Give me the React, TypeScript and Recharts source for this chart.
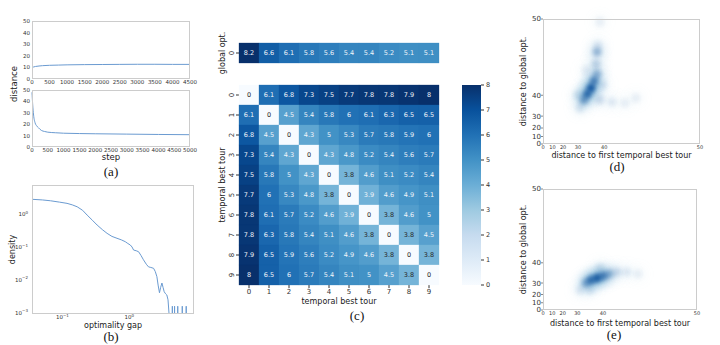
import React from 'react';
import {
  LineChart, Line, XAxis, YAxis, ScatterChart, Scatter, BarChart, Bar, Label,
} from 'recharts';

const FONT = '"DejaVu Sans", sans-serif';
const SERIF = '"Liberation Serif", "Times New Roman", serif';
const LINE_COLOR = '#6b9bd1';
const TICK_COLOR = '#333333';
const FRAME_COLOR = '#cccccc';

// ---------- (a) distance vs step ----------
const stepsTop = [0, 50, 100, 200, 300, 500, 750, 1000, 1500, 2000, 2500, 3000, 3500, 4000, 4500];
const distTop = [10.0, 10.4, 10.8, 11.2, 11.5, 11.8, 12.0, 12.2, 12.4, 12.5, 12.6, 12.7, 12.7, 12.6, 12.6];
const stepsBottom = [0, 20, 50, 100, 150, 200, 300, 400, 500, 750, 1000, 1500, 2000, 3000, 4000, 5000];
const distBottom = [48, 38, 28, 21, 18.5, 17, 14.5, 13.6, 13, 12.5, 12.1, 11.8, 11.6, 11.3, 11.0, 10.8];
const stepTicksTop = [0, 500, 1000, 1500, 2000, 2500, 3000, 3500, 4000, 4500];
const stepTicksBottom = [0, 500, 1000, 1500, 2000, 2500, 3000, 3500, 4000, 4500, 5000];
const distTicks = [0, 10, 20, 30, 40, 50];

// ---------- (b) density vs optimality gap ----------
const gapValues = [
  0.036, 0.05, 0.066, 0.09, 0.117, 0.14, 0.166, 0.2, 0.234, 0.28, 0.33, 0.4, 0.465, 0.55, 0.655,
  0.76, 0.871, 0.95, 1.035, 1.1, 1.16, 1.27, 1.377, 1.5, 1.63, 1.8, 1.94, 2.1, 2.31, 2.45, 2.59,
  2.7, 2.83, 2.95, 3.08, 3.2, 3.33, 3.5, 3.65, 3.8, 4.0,
  4.4, 4.41, 4.42, 4.75, 4.76, 4.77, 5.3, 5.31, 5.32, 6.2, 6.21, 6.22, 7.1, 7.11, 7.12, 8,
];
const densityValues = [
  2.79, 2.68, 2.53, 2.3, 2.11, 1.9, 1.66, 1.3, 0.93, 0.65, 0.464, 0.33, 0.26, 0.21, 0.184,
  0.165, 0.145, 0.128, 0.115, 0.1, 0.081, 0.077, 0.072, 0.055, 0.041, 0.03, 0.025, 0.024, 0.0226, 0.018, 0.0126,
  0.007, 0.0041, 0.006, 0.0081, 0.006, 0.0044, 0.0038, 0.0035, 0.0025, 0.0006,
  0.0006, 0.0016, 0.0006, 0.0006, 0.0016, 0.0006, 0.0006, 0.0016, 0.0006, 0.0006, 0.0016, 0.0006, 0.0006, 0.0016, 0.0006, 0.0006,
];
const gapTicks = [0.1, 1];
const densityTicks = [0.001, 0.01, 0.1, 1];

// ---------- (c) heatmap ----------
const tourLabels = [0, 1, 2, 3, 4, 5, 6, 7, 8, 9];
const globalOptRow = [8.2, 6.6, 6.1, 5.8, 5.6, 5.4, 5.4, 5.2, 5.1, 5.1];
const tourMatrix = [
  [0, 6.1, 6.8, 7.3, 7.5, 7.7, 7.8, 7.8, 7.9, 8],
  [6.1, 0, 4.5, 5.4, 5.8, 6, 6.1, 6.3, 6.5, 6.5],
  [6.8, 4.5, 0, 4.3, 5, 5.3, 5.7, 5.8, 5.9, 6],
  [7.3, 5.4, 4.3, 0, 4.3, 4.8, 5.2, 5.4, 5.6, 5.7],
  [7.5, 5.8, 5, 4.3, 0, 3.8, 4.6, 5.1, 5.2, 5.4],
  [7.7, 6, 5.3, 4.8, 3.8, 0, 3.9, 4.6, 4.9, 5.1],
  [7.8, 6.1, 5.7, 5.2, 4.6, 3.9, 0, 3.8, 4.6, 5],
  [7.8, 6.3, 5.8, 5.4, 5.1, 4.6, 3.8, 0, 3.8, 4.5],
  [7.9, 6.5, 5.9, 5.6, 5.2, 4.9, 4.6, 3.8, 0, 3.8],
  [8, 6.5, 6, 5.7, 5.4, 5.1, 5, 4.5, 3.8, 0],
];
const colorbarTicks = [0, 1, 2, 3, 4, 5, 6, 7, 8];
const colorMax = 8;

// ---------- (d), (e) KDE ----------
const kdeTickPos = [0, 6, 12.8, 22.3, 39, 100];
const kdeTickLabels = ['0', '10', '20', '30', '40', '50'];
const kdeD = [
  { x: 26.1, y: 35.2, w: 0.45 }, { x: 28.3, y: 40, w: 0.75 }, { x: 30.6, y: 44.8, w: 0.9 },
  { x: 32.5, y: 50.4, w: 0.6 }, { x: 34.4, y: 56, w: 0.35 }, { x: 33.8, y: 64, w: 0.2 },
  { x: 34.4, y: 73.6, w: 0.35 }, { x: 35, y: 79, w: 0.1 }, { x: 22.3, y: 39.2, w: 0.12 },
  { x: 23.6, y: 28.8, w: 0.12 }, { x: 36.3, y: 35.2, w: 0.15 }, { x: 44, y: 33.6, w: 0.1 },
  { x: 52.2, y: 32.8, w: 0.08 }, { x: 59.2, y: 36.8, w: 0.08 }, { x: 36.3, y: 97.6, w: 0.08 },
  { x: 38.2, y: 47.2, w: 0.1 }, { x: 27.4, y: 59.2, w: 0.08 },
];
const kdeE = [
  { x: 27.9, y: 22.3, w: 0.4 }, { x: 31.2, y: 24.8, w: 0.7 }, { x: 35.1, y: 26.4, w: 0.85 },
  { x: 39, y: 28.1, w: 0.6 }, { x: 42.9, y: 29.8, w: 0.35 }, { x: 24, y: 16.5, w: 0.1 },
  { x: 48, y: 31.4, w: 0.15 }, { x: 54.5, y: 31.4, w: 0.1 }, { x: 61.7, y: 29.8, w: 0.08 },
  { x: 37, y: 34.7, w: 0.12 }, { x: 30.5, y: 16.5, w: 0.1 },
];

// ---------- helpers ----------
const BLUES = ['#f7fbff', '#deebf7', '#c6dbef', '#9ecae1', '#6baed6', '#4292c6', '#2171b5', '#08519c', '#08306b'];
function hexToRgb(h: string) {
  return [parseInt(h.slice(1, 3), 16), parseInt(h.slice(3, 5), 16), parseInt(h.slice(5, 7), 16)];
}
function bluesColor(t: number) {
  const tt = Math.max(0, Math.min(1, t));
  const s = tt * 8;
  const i = Math.min(7, Math.floor(s));
  const f = s - i;
  const a = hexToRgb(BLUES[i]);
  const b = hexToRgb(BLUES[i + 1]);
  const c = a.map((v, k) => Math.round(v + (b[k] - v) * f));
  return `rgb(${c[0]},${c[1]},${c[2]})`;
}

const Frame = ({ l, t, w, h }: any) => (
  <div style={{ position: 'absolute', left: l, top: t, width: w, height: h, border: `1px solid ${FRAME_COLOR}`, boxSizing: 'border-box', pointerEvents: 'none' }} />
);

const Caption = ({ x, y, text }: any) => (
  <div style={{ position: 'absolute', left: x, top: y, transform: 'translate(-50%, -50%)', fontFamily: SERIF, fontSize: 13, color: '#111', whiteSpace: 'nowrap', lineHeight: 1 }}>{text}</div>
);

const expStr = (v: number) => {
  const e = Math.round(Math.log10(v));
  return e < 0 ? '\u2212' + -e : String(e);
};

const PowTickX = (props: any) => {
  const { x, y, payload } = props;
  return (
    <text x={x} y={y + 5} textAnchor="middle" fontSize={5.5} fill={TICK_COLOR} fontFamily={FONT}>
      10<tspan dy={-2.5} fontSize={4}>{expStr(payload.value)}</tspan>
    </text>
  );
};
const PowTickY = (props: any) => {
  const { x, y, payload } = props;
  return (
    <text x={x} y={y + 2} textAnchor="end" fontSize={5.5} fill={TICK_COLOR} fontFamily={FONT}>
      10<tspan dy={-2.5} fontSize={4}>{expStr(payload.value)}</tspan>
    </text>
  );
};

const RotTick = (props: any) => {
  const { x, y, payload } = props;
  return (
    <text x={x} y={y} transform={`rotate(-90 ${x} ${y})`} textAnchor="middle" fontSize={7} fill={TICK_COLOR} fontFamily={FONT}>
      {payload.value}
    </text>
  );
};

const HM_W = 200;
const HM_H = 200;
const CELL_W = HM_W / 10;
const CELL_H = HM_H / 10;

const cellShape = (props: any) => {
  const { cx, cy, payload } = props;
  const v = payload.v;
  const dark = v < 3.85;
  return (
    <g>
      <rect x={cx - CELL_W / 2} y={cy - CELL_H / 2} width={CELL_W} height={CELL_H} fill={bluesColor(v / colorMax)} stroke={bluesColor(v / colorMax)} strokeWidth={0.3} />
      <text x={cx} y={cy} dy="0.35em" textAnchor="middle" fontSize={6.5} fontFamily={FONT} fill={dark ? '#262626' : '#f0f4fa'}>{String(v)}</text>
    </g>
  );
};

const makeBlob = (id: string, r: number, color: string, k: number) => (props: any) => {
  const { cx, cy, payload } = props;
  return <circle cx={cx} cy={cy} r={r} fill={color} fillOpacity={Math.min(1, payload.w * k)} filter={`url(#${id})`} />;
};

const kdeFmt = (v: number) => kdeTickLabels[kdeTickPos.indexOf(v)] ?? '';

const topRows = stepsTop.map((s, i) => ({ step: s, d: distTop[i] }));
const bottomRows = stepsBottom.map((s, i) => ({ step: s, d: distBottom[i] }));
const gapRows = gapValues.map((g, i) => ({ gap: g, density: densityValues[i] }));
const globalCells = globalOptRow.map((v, c) => ({ col: tourLabels[c], row: 0, v }));
const hmCells = tourMatrix.flatMap((row, r) => row.map((v, c) => ({ col: tourLabels[c], row: tourLabels[r], v })));
const colorbarRows = [{ name: 'cb', v: colorMax }];

const tickStyle = { fontSize: 5.5, fill: TICK_COLOR, fontFamily: FONT };

const KdePanel = ({ data, left, top, width, height, blurId, labelOffset }: any) => (
  <div style={{ position: 'absolute', left, top }}>
    <ScatterChart width={width} height={height} margin={{ top: 14, right: 10, bottom: 0, left: 0 }}>
      <defs>
        <filter id={blurId + 'h'} x="-300%" y="-300%" width="700%" height="700%" colorInterpolationFilters="sRGB">
          <feGaussianBlur stdDeviation={5} />
        </filter>
        <filter id={blurId + 'c'} x="-300%" y="-300%" width="700%" height="700%" colorInterpolationFilters="sRGB">
          <feGaussianBlur stdDeviation={2.2} />
        </filter>
      </defs>
      <XAxis type="number" dataKey="x" domain={[0, 100]} ticks={kdeTickPos} interval={0} tickFormatter={kdeFmt}
        height={21} tickSize={0} tickMargin={1} axisLine={false} tick={{ fontSize: 5, fill: TICK_COLOR, fontFamily: FONT }}>
        <Label value="distance to first temporal best tour" position="insideBottom" offset={labelOffset} style={{ fontSize: 8, fill: '#222', fontFamily: FONT }} />
      </XAxis>
      <YAxis type="number" dataKey="y" domain={[0, 100]} ticks={kdeTickPos} interval={0} tickFormatter={kdeFmt}
        width={38} tickSize={2} tickMargin={0} axisLine={false} tickLine={{ stroke: '#888' }} tick={{ fontSize: 7, fill: TICK_COLOR, fontFamily: FONT }}>
        <Label value="distance to global opt." angle={-90} position="insideLeft" offset={18} style={{ textAnchor: 'middle', fontSize: 8, fill: '#222', fontFamily: FONT }} />
      </YAxis>
      <Scatter data={data} shape={makeBlob(blurId + 'h', 9, '#6baed6', 0.55)} isAnimationActive={false} />
      <Scatter data={data} shape={makeBlob(blurId + 'c', 4.5, '#0b4f9a', 1.0)} isAnimationActive={false} />
    </ScatterChart>
  </div>
);

export default function App() {
  return (
    <div style={{ position: 'absolute', left: 0, top: 0, width: 720, height: 345, background: '#fff', overflow: 'hidden' }}>
      {/* (a) top */}
      <div style={{ position: 'absolute', left: 0, top: 0 }}>
        <LineChart width={200} height={100} data={topRows} margin={{ top: 21, right: 10, bottom: 0, left: 0 }}>
          <XAxis type="number" dataKey="step" domain={[0, 4500]} ticks={stepTicksTop} interval={0} height={21}
            tickSize={0} tickMargin={1} axisLine={false} tick={tickStyle} />
          <YAxis type="number" domain={[0, 50]} ticks={distTicks} interval={0} width={32}
            tickSize={0} tickMargin={2} axisLine={false} tick={tickStyle} />
          <Line type="monotone" dataKey="d" stroke={LINE_COLOR} strokeWidth={1} dot={false} isAnimationActive={false} />
        </LineChart>
      </div>
      <Frame l={32} t={21} w={158} h={58} />
      {/* (a) bottom */}
      <div style={{ position: 'absolute', left: 0, top: 80 }}>
        <LineChart width={200} height={88} data={bottomRows} margin={{ top: 10, right: 10, bottom: 0, left: 0 }}>
          <XAxis type="number" dataKey="step" domain={[0, 5000]} ticks={stepTicksBottom} interval={0} height={21}
            tickSize={0} tickMargin={1} axisLine={false} tick={tickStyle}>
            <Label value="step" position="insideBottom" offset={8} style={{ fontSize: 8.5, fill: '#222', fontFamily: FONT }} />
          </XAxis>
          <YAxis type="number" domain={[0, 50]} ticks={distTicks} interval={0} width={32}
            tickSize={0} tickMargin={2} axisLine={false} tick={tickStyle} />
          <Line type="monotone" dataKey="d" stroke={LINE_COLOR} strokeWidth={1} dot={false} isAnimationActive={false} />
        </LineChart>
      </div>
      <Frame l={32} t={90} w={158} h={57} />
      <div style={{ position: 'absolute', left: 14, top: 84, transform: 'translate(-50%, -50%) rotate(-90deg)', fontFamily: FONT, fontSize: 8.5, color: '#222', whiteSpace: 'nowrap', lineHeight: 1 }}>distance</div>
      <Caption x={111} y={171} text="(a)" />

      {/* (b) */}
      <div style={{ position: 'absolute', left: 0, top: 170 }}>
        <LineChart width={200} height={170} data={gapRows} margin={{ top: 15, right: 6, bottom: 0, left: 0 }}>
          <XAxis type="number" dataKey="gap" scale="log" domain={[0.035, 9.3]} allowDataOverflow ticks={gapTicks} interval={0}
            height={26} tickSize={0} tickMargin={0} axisLine={false} tick={<PowTickX />}>
            <Label value="optimality gap" position="insideBottom" offset={12} style={{ fontSize: 8, fill: '#222', fontFamily: FONT }} />
          </XAxis>
          <YAxis type="number" scale="log" domain={[0.00093, 7.6]} allowDataOverflow ticks={densityTicks} interval={0}
            width={32} tickSize={0} tickMargin={4} axisLine={false} tick={<PowTickY />}>
            <Label value="density" angle={-90} position="insideLeft" offset={12} style={{ textAnchor: 'middle', fontSize: 8, fill: '#222', fontFamily: FONT }} />
          </YAxis>
          <Line type="linear" dataKey="density" stroke={LINE_COLOR} strokeWidth={1} dot={false} isAnimationActive={false} />
        </LineChart>
      </div>
      <Frame l={32} t={185} w={162} h={129} />
      <Caption x={111} y={336} text="(b)" />

      {/* (c) global opt row */}
      <div style={{ position: 'absolute', left: 200, top: 28 }}>
        <ScatterChart width={250} height={50} margin={{ top: 15, right: 11, bottom: 15, left: 0 }}>
          <XAxis type="number" dataKey="col" domain={[-0.5, 9.5]} hide />
          <YAxis type="number" dataKey="row" domain={[-0.5, 0.5]} ticks={[0]} interval={0} reversed width={39}
            tickSize={3} tickMargin={2} axisLine={false} tickLine={{ stroke: TICK_COLOR }} tick={<RotTick />}>
            <Label value="global opt." angle={-90} position="insideLeft" offset={22} style={{ textAnchor: 'middle', fontSize: 8, fill: '#222', fontFamily: FONT }} />
          </YAxis>
          <Scatter data={globalCells} shape={cellShape} isAnimationActive={false} />
        </ScatterChart>
      </div>
      {/* (c) main heatmap */}
      <div style={{ position: 'absolute', left: 200, top: 75 }}>
        <ScatterChart width={250} height={241} margin={{ top: 10, right: 11, bottom: 0, left: 0 }}>
          <XAxis type="number" dataKey="col" domain={[-0.5, 9.5]} ticks={tourLabels} interval={0} height={31}
            tickSize={3} tickMargin={1} axisLine={false} tickLine={{ stroke: TICK_COLOR }} tick={{ fontSize: 7, fill: TICK_COLOR, fontFamily: FONT }}>
            <Label value="temporal best tour" position="insideBottom" offset={12} style={{ fontSize: 8, fill: '#222', fontFamily: FONT }} />
          </XAxis>
          <YAxis type="number" dataKey="row" domain={[-0.5, 9.5]} ticks={tourLabels} interval={0} reversed width={39}
            tickSize={3} tickMargin={2} axisLine={false} tickLine={{ stroke: TICK_COLOR }} tick={<RotTick />}>
            <Label value="temporal best tour" angle={-90} position="insideLeft" offset={22} style={{ textAnchor: 'middle', fontSize: 8, fill: '#222', fontFamily: FONT }} />
          </YAxis>
          <Scatter data={hmCells} shape={cellShape} isAnimationActive={false} />
        </ScatterChart>
      </div>
      {/* colorbar */}
      <div style={{ position: 'absolute', left: 455, top: 75 }}>
        <BarChart width={50} height={221} data={colorbarRows} margin={{ top: 10, right: 0, bottom: 11, left: 7 }} barCategoryGap={0}>
          <defs>
            <linearGradient id="cbGrad" x1="0" y1="0" x2="0" y2="1">
              {BLUES.map((c, i) => (
                <stop key={i} offset={`${(i / 8) * 100}%`} stopColor={BLUES[8 - i]} />
              ))}
            </linearGradient>
          </defs>
          <XAxis dataKey="name" hide />
          <YAxis orientation="right" type="number" domain={[0, colorMax]} ticks={colorbarTicks} interval={0} width={24}
            tickSize={3} tickMargin={2} axisLine={false} tickLine={{ stroke: TICK_COLOR }} tick={{ fontSize: 6.5, fill: TICK_COLOR, fontFamily: FONT }} />
          <Bar dataKey="v" fill="url(#cbGrad)" isAnimationActive={false} />
        </BarChart>
      </div>
      <Caption x={357} y={315} text="(c)" />

      {/* (d) */}
      <KdePanel data={kdeD} left={505} top={5} width={205} height={160} blurId="blurD" labelOffset={7} />
      <Frame l={543} t={19} w={157} h={125} />
      <Caption x={617} y={166} text="(d)" />

      {/* (e) */}
      <KdePanel data={kdeE} left={505} top={175} width={202} height={156} blurId="blurE" labelOffset={5} />
      <Frame l={543} t={189} w={154} h={121} />
      <Caption x={614} y={334} text="(e)" />
    </div>
  );
}
